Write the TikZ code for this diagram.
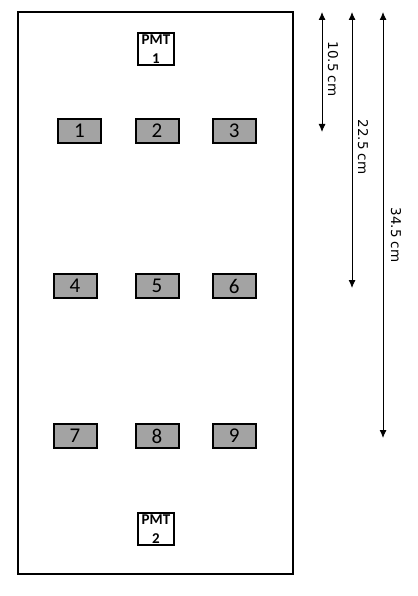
\documentclass[tikz,border=0pt]{standalone}
\usepackage{fontspec}
\setmainfont{Carlito}
\newfontfamily\dimfont{DejaVu Sans}
\usetikzlibrary{arrows.meta}

\begin{document}
\begin{tikzpicture}[x=1pt, y=-1pt, thick,
                    scint node/.style={rectangle,draw,line width=2pt,fill=black!36,minimum width=43pt,minimum height=24pt,inner sep=0pt,font=\fontsize{21}{21}\selectfont},
                    pmt node/.style={rectangle,draw,line width=2pt,fill=white,minimum width=36pt,minimum height=32pt,inner sep=0pt,align=center,font=\bfseries\fontsize{15}{18.5}\selectfont},
                    dim line/.style={line width=0.9pt,{Latex[length=8pt,width=7pt]}-{Latex[length=8pt,width=7pt]}},
                    dim label/.style={rotate=-90,font=\dimfont\fontsize{13.5}{14}\selectfont}]

  \useasboundingbox (0,0) rectangle (417,596);

  % outer box
  \draw[line width=1.5pt] (18,12) rectangle (293,574);

  \node[pmt node] (pmt1) at (156,49) {PMT\\1};
  \node[pmt node] (pmt2) at (156,529) {PMT\\2};

  \node[scint node] (1) at (79.5,131) {1};
  \node[scint node] (2) at (157,131) {2};
  \node[scint node] (3) at (234.3,131) {3};
  \node[scint node] (4) at (75,286) {4};
  \node[scint node] (5) at (157,286) {5};
  \node[scint node] (6) at (234.3,286) {6};
  \node[scint node] (7) at (75,436) {7};
  \node[scint node] (8) at (157,436) {8};
  \node[scint node] (9) at (234.3,436) {9};

  % distance markers
  \coordinate (d1top) at (322,12);
  \coordinate (d1bot) at (322,132);
  \coordinate (d2top) at (352,12);
  \coordinate (d2bot) at (352,288);
  \coordinate (d3top) at (383,12);
  \coordinate (d3bot) at (383,438);

  \draw[dim line] (d1top) -- (d1bot);
  \draw[dim line] (d2top) -- (d2bot);
  \draw[dim line] (d3top) -- (d3bot);

  \node[dim label] (l1) at (333,69) {10.5 cm};
  \node[dim label] (l2) at (363,147) {22.5 cm};
  \node[dim label] (l3) at (396,235) {34.5 cm};

\end{tikzpicture}
\end{document}
